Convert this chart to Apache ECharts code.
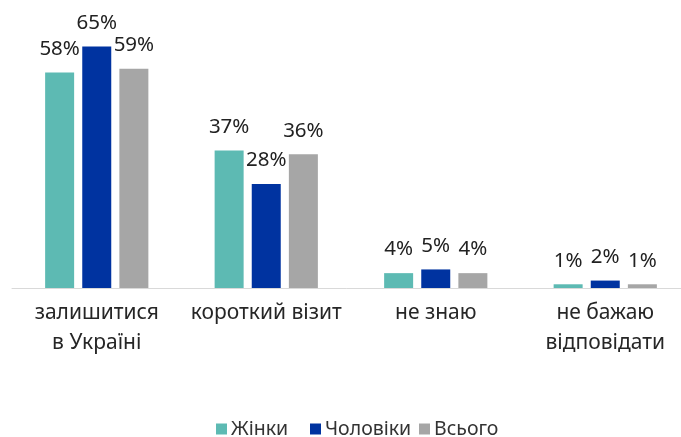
<!DOCTYPE html>
<html>
<head>
<meta charset="utf-8">
<script src="https://cdn.jsdelivr.net/npm/echarts@6/dist/echarts.min.js"></script>
<style>
  html, body { margin: 0; padding: 0; background: #fff; }
  #main { width: 681px; height: 437px; }
</style>
</head>
<body>
<div id="main"></div>
<script>
// categories and values (%)
const categories = ['залишитися\nв Україні', 'короткий візит', 'не знаю', 'не бажаю\nвідповідати'];
const women = [58, 37, 4, 1];
const men = [65, 28, 5, 2];
const total = [59, 36, 4, 1];
const seriesNames = ['Жінки', 'Чоловіки', 'Всього'];
const colors = ['#5DBAB3', '#0033A0', '#A6A6A6'];
const legendLeft = [214, 308, 417];

const chart = echarts.init(document.getElementById('main'));
const font = 'Noto Sans';

function makeSeries(name, data, color) {
  return {
    name: name,
    type: 'bar',
    data: data,
    barWidth: 29,
    barGap: '28%',
    itemStyle: { color: color },
    label: {
      show: true,
      position: 'top',
      distance: 13,
      formatter: '{c}%',
      fontFamily: font,
      fontSize: 20.5,
      color: '#222'
    }
  };
}

const legends = seriesNames.map((n, i) => ({
  data: [n],
  left: legendLeft[i],
  bottom: -4,
  itemWidth: 11,
  itemHeight: 11,
  itemGap: 0,
  icon: 'rect',
  padding: 2,
  textStyle: { fontFamily: font, fontSize: 19.5, color: '#333', padding: [0, 0, 0, -1] }
}));

chart.setOption({
  animation: false,
  textStyle: { fontFamily: font },
  color: colors,
  grid: { left: 12, width: 678, top: 28, bottom: 149, outerBoundsMode: 'none', containLabel: false },
  legend: legends,
  xAxis: {
    type: 'category',
    data: categories,
    axisLine: { lineStyle: { color: '#d9d9d9', width: 1 } },
    axisTick: { show: false },
    axisLabel: {
      fontFamily: font,
      fontSize: 21,
      color: '#262626',
      lineHeight: 30,
      margin: 10,
      interval: 0,
      hideOverlap: false
    }
  },
  yAxis: {
    type: 'value',
    min: 0,
    max: 70,
    show: false,
    splitLine: { show: false }
  },
  series: [
    makeSeries(seriesNames[0], women, colors[0]),
    makeSeries(seriesNames[1], men, colors[1]),
    makeSeries(seriesNames[2], total, colors[2])
  ]
});
</script>
</body>
</html>
